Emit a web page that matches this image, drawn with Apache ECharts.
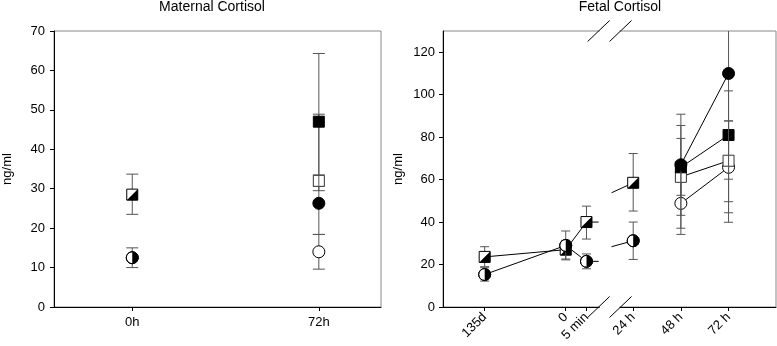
<!DOCTYPE html>
<html><head><meta charset="utf-8">
<script src="https://cdn.jsdelivr.net/npm/echarts@6/dist/echarts.min.js"></script>
<style>html,body{margin:0;padding:0;background:#fff}#c{width:777px;height:346px}</style>
</head><body><div id="c"></div>
<script>
// ================= DATA =================
// Maternal cortisol (left panel)
const matTimes = ['0h', '72h'];
const matPos = [0, 1];
const matYTicks = [0, 10, 20, 30, 40, 50, 60, 70];
const matCombSq = [28.5, null], matCombSqLo = [23.5, null], matCombSqHi = [33.7, null];
const matCombCi = [12.5, null], matCombCiLo = [10.0, null], matCombCiHi = [15.0, null];
const matFilledSq = [null, 47.0], matFilledSqLo = [null, 29.5], matFilledSqHi = [null, 64.3];
const matOpenSq = [null, 32.0], matOpenSqLo = [null, 30.7], matOpenSqHi = [null, 33.5];
const matFilledCi = [null, 26.3], matFilledCiLo = [null, 18.4], matFilledCiHi = [null, 48.9];
const matOpenCi = [null, 14.0], matOpenCiLo = [null, 9.6], matOpenCiHi = [null, 18.4];

// Fetal cortisol (right panel)
const fetTimes = ['135d', '0', '5 min', '24 h', '48 h', '72 h'];
const fetPos = [-1.70, 0, 0.435, 1.415, 2.415, 3.415];
const fetYTicks = [0, 20, 40, 60, 80, 100, 120];
const fetCombSq = [23.6, 27.0, 40.0, 58.5, null, null];
const fetCombSqLo = [19.0, 22.6, 32.0, 45.2, null, null];
const fetCombSqHi = [28.4, 31.4, 47.5, 72.3, null, null];
const fetCombCi = [15.3, 29.0, 21.5, 31.2, null, null];
const fetCombCiLo = [12.2, 22.2, 18.0, 22.4, null, null];
const fetCombCiHi = [18.5, 35.8, 25.0, 40.0, null, null];
const fetFilledCi = [null, null, null, null, 67.0, 110.0];
const fetFilledCiLo = [null, null, null, null, 43.2, 39.9];
const fetFilledCiHi = [null, null, null, null, 90.8, 180.0];
const fetFilledSq = [null, null, null, null, 65.8, 81.0];
const fetFilledSqLo = [null, null, null, null, 52.6, 60.2];
const fetFilledSqHi = [null, null, null, null, 79.4, 101.8];
const fetOpenSq = [null, null, null, null, 61.3, 68.9];
const fetOpenSqLo = [null, null, null, null, 37.1, 49.6];
const fetOpenSqHi = [null, null, null, null, 85.5, 87.7];
const fetOpenCi = [null, null, null, null, 48.8, 65.8];
const fetOpenCiLo = [null, null, null, null, 34.2, 44.4];
const fetOpenCiHi = [null, null, null, null, 63.4, 87.6];
// line stubs on either side of the axis break
const breakStubPos = [0.69, 0.96];
const fetCombSqStub = [40.0, 53.8];
const fetCombCiStub = [21.5, 28.4];
const breakMarkPos = [0.69, 1.15];

// ================= RENDER =================
const FONT = '"Liberation Sans", Arial, sans-serif';
const MAT_MAX = 70, FET_MAX = 130;

function items(pos, mean, lo, hi) {
  const out = [];
  mean.forEach((m, i) => { if (m != null) out.push([pos[i], m, lo[i], hi[i]]); });
  return out;
}
function linePts(pos, mean) {
  const out = [];
  mean.forEach((m, i) => { if (m != null) out.push([pos[i], m]); });
  return out;
}

function marker(shape, cx, cy) {
  const r = 6, h = 5.5;
  const blk = { fill: '#000', stroke: '#000', lineWidth: 1 };
  const wht = { fill: '#fff', stroke: '#000', lineWidth: 1 };
  switch (shape) {
    case 'filledCircle': return [{ type: 'circle', shape: { cx, cy, r }, style: blk }];
    case 'openCircle': return [{ type: 'circle', shape: { cx, cy, r }, style: wht }];
    case 'filledSquare': return [{ type: 'rect', shape: { x: cx - h, y: cy - h, width: 2 * h, height: 2 * h }, style: blk }];
    case 'openSquare': return [{ type: 'rect', shape: { x: cx - h, y: cy - h, width: 2 * h, height: 2 * h }, style: { fill: '#fff', stroke: '#333', lineWidth: 1 } }];
    case 'halfSquare': return [
      { type: 'rect', shape: { x: cx - h, y: cy - h, width: 2 * h, height: 2 * h }, style: wht },
      { type: 'polygon', shape: { points: [[cx + h, cy - h], [cx + h, cy + h], [cx - h, cy + h]] }, style: { fill: '#000' } }
    ];
    case 'halfCircle': return [
      { type: 'circle', shape: { cx, cy, r }, style: wht },
      { type: 'sector', shape: { cx, cy, r0: 0, r, startAngle: -Math.PI / 2, endAngle: Math.PI / 2, clockwise: true }, style: { fill: '#000' } },
      { type: 'circle', shape: { cx, cy, r }, style: { fill: 'none', stroke: '#000', lineWidth: 1 } }
    ];
  }
  return [];
}

function errSeries(name, gi, data, shape, capHalf, yMax) {
  return {
    type: 'custom', name, xAxisIndex: gi, yAxisIndex: gi, z: 5,
    encode: { x: 0, y: 1 },
    data,
    renderItem: function (params, api) {
      const x = api.value(0), y = api.value(1), lo = api.value(2), hi = api.value(3);
      const p = api.coord([x, y]);
      const pl = api.coord([x, lo]);
      const ph = api.coord([x, Math.min(hi, yMax)]);
      const eb = { stroke: '#555', lineWidth: 1 };
      const ch = [];
      ch.push({ type: 'line', shape: { x1: p[0], y1: pl[1], x2: p[0], y2: ph[1] }, style: eb });
      ch.push({ type: 'line', shape: { x1: p[0] - capHalf, y1: pl[1], x2: p[0] + capHalf, y2: pl[1] }, style: eb });
      if (hi <= yMax) ch.push({ type: 'line', shape: { x1: p[0] - capHalf, y1: ph[1], x2: p[0] + capHalf, y2: ph[1] }, style: eb });
      return { type: 'group', children: ch.concat(marker(shape, p[0], p[1])) };
    }
  };
}

function conn(gi, pts) {
  return { type: 'line', xAxisIndex: gi, yAxisIndex: gi, data: pts, symbol: 'none', z: 2,
    lineStyle: { color: '#000', width: 1 }, silent: true, animation: false };
}

const axisLbl = { color: '#000', fontSize: 13, fontFamily: FONT };

const chart = echarts.init(document.getElementById('c'), null, { renderer: 'canvas' });
chart.setOption({
  animation: false,
  backgroundColor: '#fff',
  graphic: [
    { type: 'text', x: 212, y: 7.5, style: { text: 'Maternal Cortisol', fontSize: 14, fontFamily: FONT, fill: '#000', align: 'center', verticalAlign: 'middle' } },
    { type: 'text', x: 620, y: 7.5, style: { text: 'Fetal Cortisol', fontSize: 14, fontFamily: FONT, fill: '#000', align: 'center', verticalAlign: 'middle' } }
  ],
  grid: [
    { left: 48, top: 31, width: 333, height: 276, show: true, borderColor: '#888', borderWidth: 1, backgroundColor: 'transparent' },
    { left: 443, top: 31, width: 333, height: 276, show: true, borderColor: '#888', borderWidth: 1, backgroundColor: 'transparent' }
  ],
  xAxis: [
    { type: 'value', gridIndex: 0, min: -0.4194, max: 1.3332,
      axisLine: { onZero: false, lineStyle: { color: '#000' } },
      axisTick: { customValues: matPos, length: 4, lineStyle: { color: '#000' } },
      axisLabel: Object.assign({ customValues: matPos, margin: 9, formatter: v => matTimes[matPos.indexOf(v)] }, axisLbl),
      splitLine: { show: false } },
    { type: 'value', gridIndex: 1, min: -2.574, max: 4.41,
      axisLine: { onZero: false, lineStyle: { color: '#000' } },
      axisTick: { customValues: fetPos, length: 4, lineStyle: { color: '#000' } },
      axisLabel: Object.assign({ customValues: fetPos, margin: 8, rotate: 45, formatter: v => fetTimes[fetPos.indexOf(v)] }, axisLbl),
      splitLine: { show: false } }
  ],
  yAxis: [
    { type: 'value', gridIndex: 0, min: 0, max: MAT_MAX, interval: 10,
      name: 'ng/ml', nameLocation: 'middle', nameRotate: 90, nameGap: 40,
      nameTextStyle: { fontSize: 13, fontFamily: FONT, color: '#000' },
      axisLine: { show: true, onZero: false, lineStyle: { color: '#000' } },
      axisTick: { show: true, customValues: matYTicks, length: 4, lineStyle: { color: '#000' } },
      axisLabel: Object.assign({ customValues: matYTicks, margin: 9 }, axisLbl),
      splitLine: { show: false } },
    { type: 'value', gridIndex: 1, min: 0, max: FET_MAX, interval: 10,
      name: 'ng/ml', nameLocation: 'middle', nameRotate: 90, nameGap: 38,
      nameTextStyle: { fontSize: 13, fontFamily: FONT, color: '#000' },
      axisLine: { show: true, onZero: false, lineStyle: { color: '#000' } },
      axisTick: { show: true, customValues: fetYTicks, length: 4, lineStyle: { color: '#000' } },
      axisLabel: Object.assign({ customValues: fetYTicks, margin: 8 }, axisLbl),
      splitLine: { show: false } }
  ],
  series: [
    // left panel
    errSeries('matCombSq', 0, items(matPos, matCombSq, matCombSqLo, matCombSqHi), 'halfSquare', 6, MAT_MAX),
    errSeries('matCombCi', 0, items(matPos, matCombCi, matCombCiLo, matCombCiHi), 'halfCircle', 6, MAT_MAX),
    errSeries('matOpenCi', 0, items(matPos, matOpenCi, matOpenCiLo, matOpenCiHi), 'openCircle', 6, MAT_MAX),
    errSeries('matFilledCi', 0, items(matPos, matFilledCi, matFilledCiLo, matFilledCiHi), 'filledCircle', 6, MAT_MAX),
    errSeries('matOpenSq', 0, items(matPos, matOpenSq, matOpenSqLo, matOpenSqHi), 'openSquare', 6, MAT_MAX),
    errSeries('matFilledSq', 0, items(matPos, matFilledSq, matFilledSqLo, matFilledSqHi), 'filledSquare', 6, MAT_MAX),
    // right panel connecting lines
    conn(1, linePts(fetPos, fetCombSq).slice(0, 3).concat([[breakStubPos[0], fetCombSqStub[0]]])),
    conn(1, linePts(fetPos, fetCombCi).slice(0, 3).concat([[breakStubPos[0], fetCombCiStub[0]]])),
    conn(1, [[breakStubPos[1], fetCombSqStub[1]], [fetPos[3], fetCombSq[3]]]),
    conn(1, [[breakStubPos[1], fetCombCiStub[1]], [fetPos[3], fetCombCi[3]]]),
    conn(1, linePts(fetPos, fetFilledCi)),
    conn(1, linePts(fetPos, fetFilledSq)),
    conn(1, linePts(fetPos, fetOpenSq)),
    conn(1, linePts(fetPos, fetOpenCi)),
    // right panel markers + error bars
    errSeries('fetOpenCi', 1, items(fetPos, fetOpenCi, fetOpenCiLo, fetOpenCiHi), 'openCircle', 4.5, FET_MAX),
    errSeries('fetOpenSq', 1, items(fetPos, fetOpenSq, fetOpenSqLo, fetOpenSqHi), 'openSquare', 4.5, FET_MAX),
    errSeries('fetFilledSq', 1, items(fetPos, fetFilledSq, fetFilledSqLo, fetFilledSqHi), 'filledSquare', 4.5, FET_MAX),
    errSeries('fetFilledCi', 1, items(fetPos, fetFilledCi, fetFilledCiLo, fetFilledCiHi), 'filledCircle', 4.5, FET_MAX),
    errSeries('fetCombSq', 1, items(fetPos, fetCombSq, fetCombSqLo, fetCombSqHi), 'halfSquare', 4.5, FET_MAX),
    errSeries('fetCombCi', 1, items(fetPos, fetCombCi, fetCombCiLo, fetCombCiHi), 'halfCircle', 4.5, FET_MAX),
    // axis break marks
    { type: 'custom', xAxisIndex: 1, yAxisIndex: 1, z: 20, silent: true, clip: false,
      data: [[breakMarkPos[0], 0]], encode: { x: 0, y: 1 },
      renderItem: function (params, api) {
        const a = api.coord([breakMarkPos[0], 0]);
        const b = api.coord([breakMarkPos[1], 0]);
        const topY = api.coord([breakMarkPos[0], FET_MAX])[1];
        const botY = a[1];
        const ch = [];
        [topY, botY].forEach(yy => {
          ch.push({ type: 'rect', shape: { x: a[0] + 1, y: yy - 1.5, width: b[0] - a[0] - 2, height: 3 }, style: { fill: '#fff' } });
          [a[0], b[0]].forEach(xx => {
            ch.push({ type: 'line', shape: { x1: xx - 11, y1: yy + 10.5, x2: xx + 11, y2: yy - 10.5 }, style: { stroke: '#000', lineWidth: 1 } });
          });
        });
        return { type: 'group', children: ch };
      } }
  ]
});
</script></body></html>
